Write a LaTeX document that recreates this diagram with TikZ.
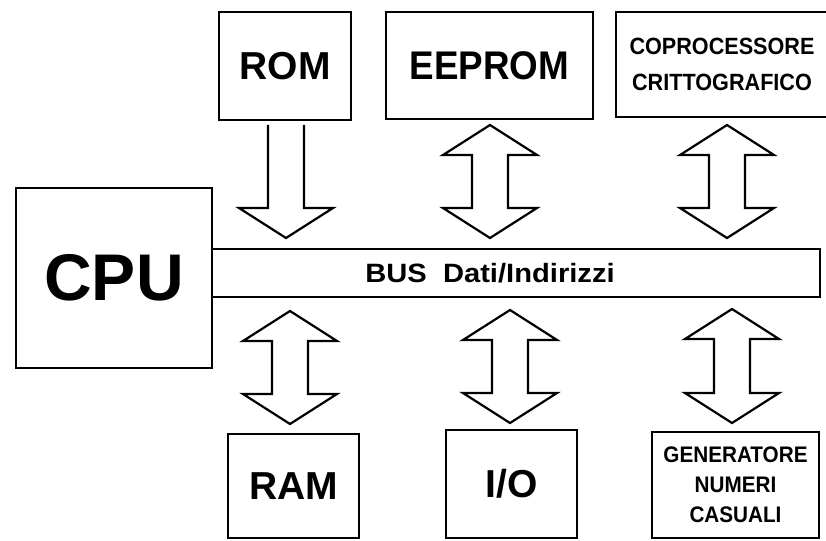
\documentclass[tikz,border=0pt]{standalone}
\usepackage{fontspec}
\setmainfont{Liberation Sans}
\newfontfamily\narrowfont[FakeStretch=0.92]{Liberation Sans}
\newfontfamily\widefont[FakeStretch=1.1]{Liberation Sans}
\newcommand{\BiArrow}[3]{%
  \draw[blockarrow] (#1,#2) -- (#1+47,#2+30) -- (#1+18,#2+30) -- (#1+18,#3-30)
    -- (#1+47,#3-30) -- (#1,#3) -- (#1-47,#3-30) -- (#1-18,#3-30)
    -- (#1-18,#2+30) -- (#1-47,#2+30) -- cycle;}
\begin{document}
\begin{tikzpicture}[x=1pt,y=-1pt,
  unitbox/.style={draw, line width=2.2pt, inner sep=0pt, align=center, text=black},
  bigtext/.style={font=\bfseries\fontsize{39}{42}\selectfont},
  smalltext/.style={font=\narrowfont\bfseries\fontsize{23.5}{36}\selectfont},
  blockarrow/.style={draw, line width=2.2pt, line join=miter}]
\useasboundingbox (0,0) rectangle (826,540);
\fill[white] (0,0) rectangle (826,540);
% boxes
\node[unitbox, bigtext, minimum width=132pt, minimum height=108pt] (rom) at (285,66) {ROM};
\node[unitbox, font=\narrowfont\bfseries\fontsize{40}{42}\selectfont, minimum width=207pt, minimum height=107pt] (eeprom) at (489.5,65.5) {EEPROM};
\node[unitbox, smalltext, minimum width=212pt, minimum height=105pt] (copro) at (722,64.5) {COPROCESSORE\\CRITTOGRAFICO};
\node[unitbox, minimum width=608pt, minimum height=48pt] (bus) at (516,273) {};
\node[font=\widefont\bfseries\fontsize{26.5}{28}\selectfont, inner sep=0pt] (bustext) at (490,273.5) {BUS\ \ Dati/Indirizzi};
\node[unitbox, font=\bfseries\fontsize{66}{70}\selectfont, minimum width=196pt, minimum height=180pt] (cpu) at (114,278) {CPU};
\node[unitbox, bigtext, minimum width=131pt, minimum height=104pt] (ram) at (293.5,486) {RAM};
\node[unitbox, bigtext, minimum width=131pt, minimum height=108pt] (io) at (511.5,484) {I/O};
\node[unitbox, font=\narrowfont\bfseries\fontsize{22.5}{30}\selectfont, minimum width=167pt, minimum height=106pt] (gen) at (735.5,485) {GENERATORE\\NUMERI\\CASUALI};
% ROM -> bus single arrow (open top)
\draw[blockarrow] (268,125) -- (268,208) -- (239,208) -- (286,238) -- (333,208) -- (304,208) -- (304,125);
% double arrows
\BiArrow{490}{125}{238}
\BiArrow{727}{125}{238}
\BiArrow{290}{311}{424}
\BiArrow{510}{310}{423}
\BiArrow{732}{309}{423}
\end{tikzpicture}
\end{document}
